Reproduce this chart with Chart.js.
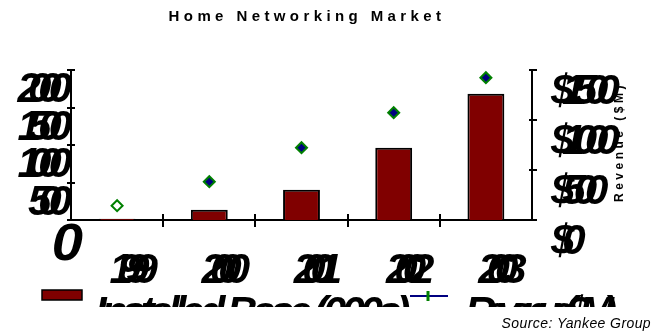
<!DOCTYPE html>
<html><head><meta charset="utf-8">
<script src="https://cdn.jsdelivr.net/npm/chart.js@4/dist/chart.umd.min.js"></script>
<style>html,body{margin:0;padding:0;background:#fff;overflow:hidden}#wrap{width:653px;height:331px}</style>
</head><body><div id="wrap"><canvas id="c" width="653" height="331"></canvas></div>
<script>
const categories = ['1999', '2000', '2001', '2002', '2003'];
const unitsValues = [18, 137, 404, 964, 1684];
const revenueValues = [143, 383, 723, 1073, 1423];
const leftTickValues = [0, 500, 1000, 1500, 2000];
const leftTickLabels = ['0', '500', '1000', '1500', '2000'];
const rightTickValues = [0, 500, 1000, 1500];
const rightTickLabels = ['$0', '$500', '$1000', '$1500'];
const seriesNames = ['Installed Base (000s)', 'Revenue ($M)'];
const titleText = 'Home Networking Market';
const rightAxisTitle = 'Revenue ($M)';
const sourceText = 'Source: Yankee Group';

const BIG = 'italic bold 42px "Liberation Sans", Arial, sans-serif';

function txt(ctx, s, x, y, font, spacing, align, hs) {
  ctx.save();
  ctx.translate(x, y);
  if (hs) ctx.scale(hs, 1);
  ctx.font = font;
  ctx.letterSpacing = spacing + 'px';
  ctx.textAlign = align;
  ctx.textBaseline = 'alphabetic';
  ctx.fillStyle = '#000';
  ctx.fillText(s, 0, 0);
  ctx.restore();
}

const decor = {
  id: 'decor',
  afterDraw(chart) {
    const ctx = chart.ctx;
    const x = chart.scales.x, y = chart.scales.y, y1 = chart.scales.y1;
    const a = chart.chartArea;
    ctx.save();
    ctx.strokeStyle = '#000';
    ctx.lineWidth = 2;
    ctx.beginPath();
    for (let i = 1; i < categories.length; i++) {
      const px = Math.round((x.getPixelForValue(i - 1) + x.getPixelForValue(i)) / 2);
      ctx.moveTo(px, a.bottom - 6); ctx.lineTo(px, a.bottom + 7);
    }
    leftTickValues.forEach(v => {
      const py = Math.round(y.getPixelForValue(v));
      ctx.moveTo(a.left - 4, py); ctx.lineTo(a.left + 4, py);
    });
    rightTickValues.forEach(v => {
      const py = Math.round(y1.getPixelForValue(v));
      ctx.moveTo(a.right - 3, py); ctx.lineTo(a.right + 5, py);
    });
    ctx.stroke();
    ctx.restore();

    txt(ctx, titleText, 307, 21, 'bold 15px "Liberation Sans", Arial, sans-serif', 4.4, 'center');

    ctx.save();
    ctx.translate(623, 142);
    ctx.rotate(-Math.PI / 2);
    txt(ctx, rightAxisTitle, 0, 0, 'bold 12px "Liberation Sans", Arial, sans-serif', 3.5, 'center');
    ctx.restore();

    leftTickValues.forEach((v, i) => {
      const py = y.getPixelForValue(v);
      if (v === 0) txt(ctx, leftTickLabels[i], 72, py + 40, 'italic bold 51px "Liberation Sans", Arial, sans-serif', -10, 'right', 1.1);
      else txt(ctx, leftTickLabels[i], 59, py + 32, BIG, -13, 'right');
    });
    rightTickValues.forEach((v, i) => {
      const py = y1.getPixelForValue(v);
      txt(ctx, rightTickLabels[i], 551, py + 34, BIG, -12, 'left');
    });
    categories.forEach((c, i) => {
      const px = x.getPixelForValue(i);
      txt(ctx, c, px + 9, 283, BIG, -15, 'center');
    });

    ctx.save();
    ctx.fillStyle = '#800000';
    ctx.fillRect(42, 290, 40, 10);
    ctx.strokeStyle = '#000';
    ctx.lineWidth = 1.5;
    ctx.strokeRect(42, 290, 40, 10);
    ctx.strokeStyle = '#000080';
    ctx.lineWidth = 2;
    ctx.beginPath(); ctx.moveTo(410, 296); ctx.lineTo(448, 296); ctx.stroke();
    ctx.strokeStyle = '#008000';
    ctx.lineWidth = 3;
    ctx.beginPath(); ctx.moveTo(428, 291); ctx.lineTo(428, 301); ctx.stroke();
    ctx.beginPath(); ctx.rect(0, 0, 653, 307); ctx.clip();
    txt(ctx, seriesNames[0], 95, 326, BIG, -5, 'left');
    txt(ctx, seriesNames[1], 465, 326, BIG, -11, 'left');
    ctx.restore();

    txt(ctx, sourceText, 651, 328, 'italic 14px "Liberation Sans", Arial, sans-serif', 0.4, 'right');
  }
};

new Chart(document.getElementById('c'), {
  data: {
    labels: categories,
    datasets: [
      {
        type: 'line', label: seriesNames[1], data: revenueValues, yAxisID: 'y1',
        showLine: false, pointStyle: 'rectRot', pointRadius: 5.5,
        pointBorderColor: '#008000', pointBorderWidth: 2,
        pointBackgroundColor: ['#ffffff', '#000080', '#000080', '#000080', '#000080'],
        borderColor: '#000080', order: 0
      },
      {
        type: 'bar', label: seriesNames[0], data: unitsValues, yAxisID: 'y',
        backgroundColor: '#800000', borderColor: '#000', borderWidth: 2,
        barPercentage: 0.4, categoryPercentage: 1, order: 1
      }
    ]
  },
  options: {
    responsive: false, animation: false, devicePixelRatio: 1,
    layout: { padding: { top: 70, left: 0, right: 0, bottom: 0 } },
    plugins: { legend: { display: false }, title: { display: false }, tooltip: { enabled: false } },
    scales: {
      x: {
        type: 'category', offset: true,
        grid: { display: false }, ticks: { display: false },
        border: { display: true, color: '#000', width: 2 },
        afterFit: s => { s.height = 111; }
      },
      y: {
        position: 'left', min: 0, max: 2000,
        ticks: { display: false, stepSize: 500 }, grid: { display: false },
        border: { display: true, color: '#000', width: 2 },
        afterFit: s => { s.width = 71; }
      },
      y1: {
        position: 'right', min: 0, max: 1500,
        ticks: { display: false, stepSize: 500 }, grid: { display: false },
        border: { display: true, color: '#000', width: 2 },
        afterFit: s => { s.width = 121; }
      }
    }
  },
  plugins: [decor]
});
</script>
</body></html>
